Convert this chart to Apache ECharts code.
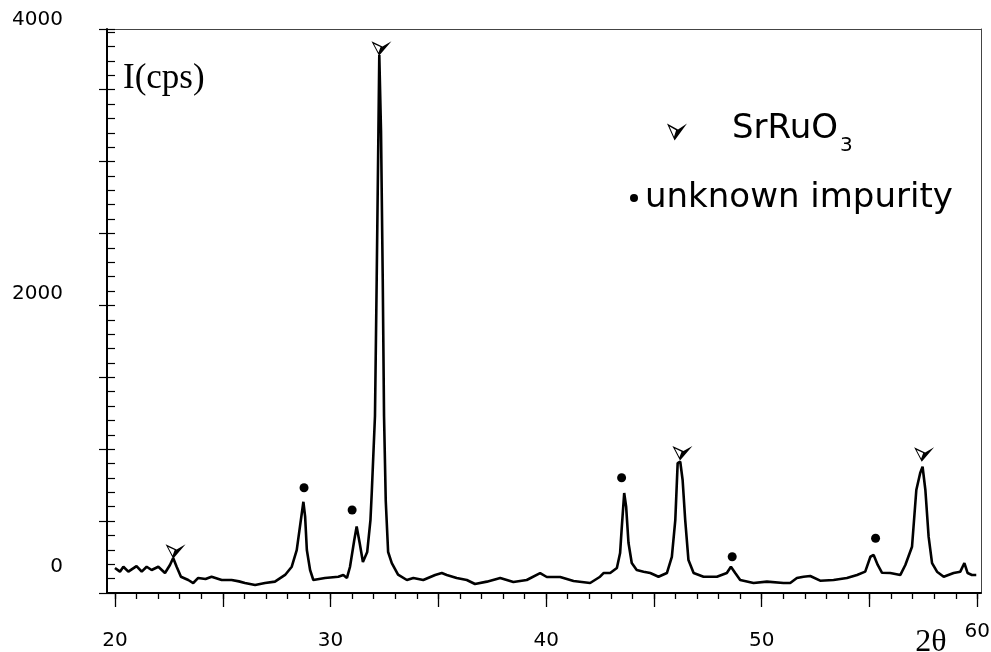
<!DOCTYPE html>
<html>
<head>
<meta charset="utf-8">
<script src="https://cdn.jsdelivr.net/npm/echarts@6/dist/echarts.min.js"></script>
<style>
  html, body { margin: 0; padding: 0; background: #fff; }
  #chart { width: 991px; height: 652px; }
</style>
</head>
<body>
<div id="chart"></div>
<script>
// XRD trace, 2theta (deg) vs intensity (cps)
const twoTheta = [
  20.00, 20.23, 20.39, 20.62, 21.00, 21.24, 21.47, 21.70, 22.01, 22.32,
  22.55, 22.70, 22.86, 23.06, 23.40, 23.63, 23.86, 24.20, 24.48, 24.95,
  25.41, 25.75, 26.03, 26.50, 26.96, 27.42, 27.89, 28.20, 28.43, 28.58,
  28.74, 28.82, 28.90, 29.05, 29.20, 29.74, 30.36, 30.59, 30.76, 30.90,
  31.10, 31.21, 31.35, 31.50, 31.70, 31.85, 31.91, 32.06, 32.14, 32.22,
  32.26, 32.34, 32.42, 32.48, 32.56, 32.67, 32.84, 33.13, 33.54, 33.84,
  34.30, 34.85, 35.16, 35.39, 35.85, 36.32, 36.70, 37.25, 37.87, 38.48,
  39.10, 39.72, 40.03, 40.65, 41.27, 42.04, 42.50, 42.66, 42.97, 43.28,
  43.43, 43.51, 43.62, 43.71, 43.82, 43.97, 44.20, 44.52, 44.83, 45.21,
  45.60, 45.83, 45.99, 46.10, 46.22, 46.33, 46.45, 46.60, 46.84, 47.30,
  47.92, 48.38, 48.57, 48.77, 49.00, 49.62, 50.24, 51.01, 51.32, 51.63,
  51.94, 52.25, 52.71, 53.33, 53.95, 54.42, 54.80, 55.04, 55.19, 55.38,
  55.58, 55.96, 56.43, 56.66, 56.97, 57.17, 57.35, 57.46, 57.59, 57.74,
  57.90, 58.13, 58.44, 58.90, 59.21, 59.40, 59.55, 59.75, 59.95
];
const intensity = [
  -7, -34, 2, -34, 7, -34, 2, -22, 2, -44,
  15, 66, 2, -71, -95, -117, -80, -88, -71, -95,
  -95, -105, -117, -132, -117, -107, -58, 2, 124, 295,
  477, 368, 124, -22, -95, -80, -71, -58, -80, 0,
  197, 296, 175, 37, 110, 343, 541, 1104, 2106, 3188,
  3744, 3188, 2106, 1104, 483, 110, 29, -55, -95, -80,
  -95, -58, -44, -58, -80, -95, -124, -107, -80, -110,
  -95, -44, -73, -73, -102, -117, -71, -44, -44, -7,
  102, 295, 541, 441, 175, 29, -22, -34, -44, -71,
  -44, 75, 343, 760, 770, 636, 343, 51, -44, -71,
  -71, -44, 2, -44, -95, -117, -107, -117, -117, -80,
  -71, -66, -100, -95, -80, -58, -34, 75, 88, 15,
  -42, -44, -58, 15, 148, 563, 687, 733, 563, 222,
  29, -34, -71, -44, -34, 29, -44, -58, -58
];

// peak markers
const srruoX = [22.70, 32.25, 46.21, 57.42];
const srruoY = [51, 3729, 770, 760];
const impurityX = [28.77, 31.00, 43.50, 48.63, 55.28];
const impurityY = [580, 417, 653, 75, 210];

// axis ticks / labels
const xMinorTicks = [20, 21, 22, 23, 24, 25, 26, 27, 28, 29, 30, 31, 32, 33, 34, 35, 36, 37, 38, 39, 40,
  41, 42, 43, 44, 45, 46, 47, 48, 49, 50, 51, 52, 53, 54, 55, 56, 57, 58, 59, 60];
const xMajorTicks = [20, 25, 30, 35, 40, 45, 50, 55, 60];
const xLabels = [20, 30, 40, 50, 60];

const triangle = "path://M0 0L55 30L38 85ZM12.4 15.3L35.2 66.3L45.4 33.3ZM55 30L100 0L38 85Z";
const sans = "DejaVu Sans";
const serif = "Liberation Serif";

const chart = echarts.init(document.getElementById("chart"));

const trace = twoTheta.map((x, i) => [x, intensity[i]]);
const srruo = srruoX.map((x, i) => [x, srruoY[i]]);
const impurity = impurityX.map((x, i) => [x, impurityY[i]]);

const option = {
  backgroundColor: "#fff",
  animation: false,
  grid: [
    { left: 107, right: 10, top: 29, bottom: 59, outerBoundsMode: "none" },
    // only carries the intensity labels, same scale as the data grid
    { left: 107, right: 10, top: 20, bottom: 85, outerBoundsMode: "none" },
  ],
  legend: [
    {
      data: [{ name: "SrRuO3", icon: triangle }],
      left: 667,
      top: 112,
      padding: 0,
      itemWidth: 20,
      itemHeight: 17,
      selectedMode: false,
      formatter: () => "{s|SrRuO}{b|3}",
      textStyle: {
        color: "#000",
        rich: {
          s: { fontFamily: sans, fontSize: 34, color: "#000", lineHeight: 40, verticalAlign: "top", padding: [0, 0, 0, 40] },
          b: { fontFamily: sans, fontSize: 20, color: "#000", lineHeight: 20, verticalAlign: "top", padding: [24, 0, 0, 2] },
        },
      },
    },
    {
      data: [{ name: "unknown impurity", icon: "circle" }],
      left: 630,
      top: 181,
      padding: 0,
      itemWidth: 8,
      itemHeight: 8,
      selectedMode: false,
      textStyle: { fontFamily: sans, fontSize: 34, color: "#000", padding: [0, 0, 0, 2] },
    },
  ],
  xAxis: [
    {
      gridIndex: 0,
      type: "value",
      position: "bottom",
      min: 19.63,
      max: 60.17,
      name: "2θ",
      nameLocation: "end",
      nameGap: -50,
      nameTextStyle: {
        fontFamily: serif,
        fontSize: 32,
        color: "#000",
        align: "center",
        verticalAlign: "top",
        padding: [34, 0, 0, 0],
      },
      axisLine: { onZero: false, lineStyle: { color: "#000", width: 2 } },
      axisTick: { customValues: xMinorTicks, length: 6, lineStyle: { color: "#000", width: 1.3 } },
      axisLabel: {
        customValues: xLabels,
        margin: 38,
        fontFamily: sans,
        fontSize: 20,
        color: "#000",
        formatter: (v) => (v === 60 ? "{r|60}" : String(v)),
        rich: { r: { fontFamily: sans, fontSize: 20, color: "#000", lineHeight: 2 } },
      },
      splitLine: { show: false },
    },
    {
      gridIndex: 0,
      type: "value",
      position: "bottom",
      min: 19.63,
      max: 60.17,
      axisLine: { show: false, onZero: false },
      axisTick: { customValues: xMajorTicks, length: 14, lineStyle: { color: "#000", width: 1.3 } },
      axisLabel: { show: false },
      splitLine: { show: false },
    },
    {
      // top frame line
      gridIndex: 0,
      type: "value",
      position: "top",
      min: 19.63,
      max: 60.17,
      axisLine: { onZero: false, lineStyle: { color: "#444", width: 1 } },
      axisTick: { show: false },
      axisLabel: { show: false },
      splitLine: { show: false },
    },
    { gridIndex: 1, type: "value", min: 0, max: 1, show: false },
  ],
  yAxis: [
    {
      gridIndex: 0,
      type: "value",
      position: "left",
      min: -190,
      max: 3934,
      name: "I(cps)",
      nameLocation: "end",
      nameGap: -50,
      nameTextStyle: {
        fontFamily: serif,
        fontSize: 35,
        color: "#000",
        align: "left",
        verticalAlign: "middle",
        padding: [0, 0, 0, 16],
      },
      axisLine: { onZero: false, lineStyle: { color: "#000", width: 2 } },
      axisTick: { show: false },
      axisLabel: { show: false },
      splitLine: { show: false },
    },
    {
      // small ticks inside, counted in minor-tick units from the axis bottom
      gridIndex: 0,
      type: "value",
      position: "left",
      min: 0,
      max: 39.22,
      interval: 1,
      axisLine: { show: false, onZero: false },
      axisTick: { show: true, inside: true, length: 8, lineStyle: { color: "#000", width: 1.2 } },
      axisLabel: { show: false },
      splitLine: { show: false },
    },
    {
      // major ticks poking out to the left
      gridIndex: 0,
      type: "value",
      position: "left",
      min: 0,
      max: 7.844,
      interval: 1,
      axisLine: { show: false, onZero: false },
      axisTick: { show: true, inside: false, length: 8, lineStyle: { color: "#000", width: 1.2 } },
      axisLabel: { show: false },
      splitLine: { show: false },
    },
    {
      // right frame line
      gridIndex: 0,
      type: "value",
      position: "right",
      min: 0,
      max: 1,
      axisLine: { show: true, onZero: false, lineStyle: { color: "#444", width: 1 } },
      axisTick: { show: false },
      axisLabel: { show: false },
      splitLine: { show: false },
    },
    {
      gridIndex: 1,
      type: "value",
      position: "left",
      min: 0,
      max: 4000,
      interval: 2000,
      axisLine: { show: false },
      axisTick: { show: false },
      axisLabel: { margin: 44, fontFamily: sans, fontSize: 20, color: "#000", formatter: (v) => String(v) },
      splitLine: { show: false },
    },
  ],
  series: [
    {
      type: "line",
      xAxisIndex: 0,
      yAxisIndex: 0,
      showSymbol: false,
      lineStyle: { color: "#000", width: 2.6 },
      data: trace,
      z: 2,
    },
    {
      name: "SrRuO3",
      type: "scatter",
      xAxisIndex: 0,
      yAxisIndex: 0,
      symbol: triangle,
      symbolSize: [20, 17],
      symbolKeepAspect: true,
      symbolOffset: ["12%", "-50%"],
      itemStyle: { color: "#000", opacity: 1 },
      data: srruo,
      z: 3,
    },
    {
      name: "unknown impurity",
      type: "scatter",
      xAxisIndex: 0,
      yAxisIndex: 0,
      symbol: "circle",
      symbolSize: 9,
      itemStyle: { color: "#000", opacity: 1 },
      data: impurity,
      z: 3,
    },
  ],
};
chart.setOption(option);
</script>
</body>
</html>
